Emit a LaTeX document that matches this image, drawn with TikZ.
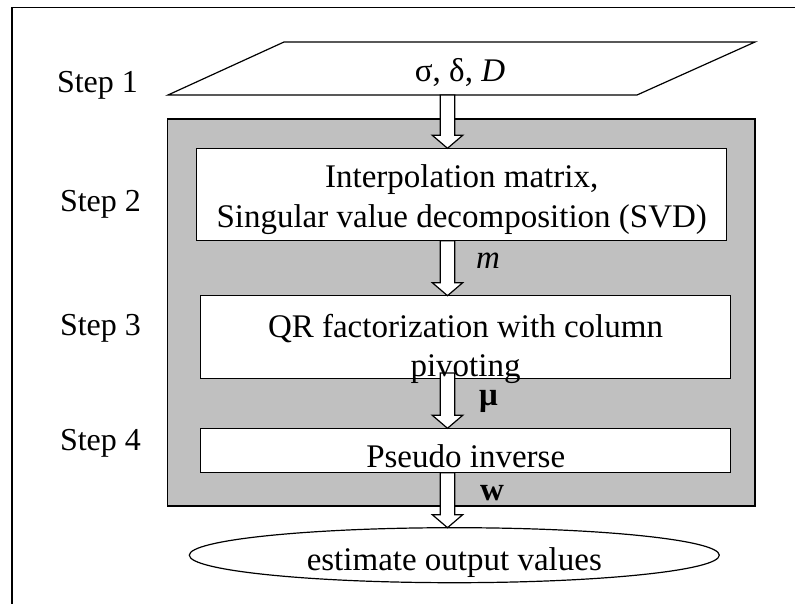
\documentclass[tikz,border=0pt]{standalone}
\usepackage{fontspec}
\setmainfont{Liberation Serif}
\usetikzlibrary{calc,shapes.geometric}
\definecolor{panel}{RGB}{192,192,192}
\newcommand\blockarrow[3][0]{%
  \draw[barrow] let \p1=(#2 -| ax), \p2=(#3 -| ax) in
    (\x1-7.3pt,\y1+#1pt) -- (\x1+7.3pt,\y1+#1pt) -- (\x1+7.3pt,\y2+13pt) -- (\x1+15.2pt,\y2+13pt)
    -- (\x1,\y2) -- (\x1-15.2pt,\y2+13pt) -- (\x1-7.3pt,\y2+13pt) -- cycle;}
\begin{document}
\begin{tikzpicture}[x=1pt,y=-1pt,
  every node/.style={inner sep=0pt, outer sep=0pt},
  lbl/.style={font=\fontsize{32}{38}\selectfont, anchor=base},
  boxtxt/.style={font=\fontsize{33}{39}\selectfont, anchor=base},
  stepbox/.style={draw, fill=white, line width=1.2pt, rectangle, minimum width=530pt},
  barrow/.style={draw, fill=white, line width=1.2pt, line join=miter}
]
\useasboundingbox (0,0) rectangle (795,604);
% outer frame (top and left edges visible)
\draw[line width=1.3pt] (12,604) -- (12,7.5) -- (795,7.5);

% input parallelogram
\node[minimum width=587pt, minimum height=53pt] (inp) at (461.5,68.5) {};
\draw[line width=1.2pt, fill=white] (inp.south west) -- ($(inp.north west)+(116,0)$)
  -- (inp.north east) -- ($(inp.south east)+(-118,0)$) -- cycle;

% grey panel
\node[draw, fill=panel, line width=1.2pt, minimum width=587.5pt, minimum height=387pt] (panel) at (461.25,312.5) {};

% step boxes
\node[stepbox, minimum height=92.4pt] (b1) at (461.7,194.5) {};
\node[stepbox, minimum height=82.6pt] (b2) at (465.7,337) {};
\node[stepbox, minimum height=44.4pt] (b3) at (465.7,450.5) {};
\node[draw, fill=white, line width=1.2pt, ellipse, minimum width=530pt, minimum height=55pt] (ell) at (454.3,555.2) {};

% arrows
\coordinate (ax) at (447.5,0);
\blockarrow{inp.south}{b1.north}
\blockarrow{b1.south}{b2.north}
\blockarrow[5.3]{b2.south}{b3.north}
\blockarrow{b3.south}{ell.north}

% texts
\node[boxtxt] (tin) at (460,82) {σ, δ, \textit{D}};
\node[boxtxt] (t1a) at (461.7,188) {Interpolation matrix,};
\node[boxtxt] (t1b) at (461.7,227.7) {Singular value decomposition (SVD)};
\node[boxtxt] (t2a) at (465.5,337) {QR factorization with column};
\node[boxtxt] (t2b) at (465.5,376.5) {pivoting};
\node[boxtxt] (t3) at (465.7,467) {Pseudo inverse};
\node[boxtxt] (t4) at (454.3,570) {estimate output values};

\node[lbl, anchor=base west] (s1) at (57,93) {Step 1};
\node[lbl, anchor=base west] (s2) at (60,212) {Step 2};
\node[lbl, anchor=base west] (s3) at (60,335) {Step 3};
\node[lbl, anchor=base west] (s4) at (60,450) {Step 4};

\node[boxtxt, anchor=base west] (lm) at (476,268) {\textit{m}};
\node[boxtxt, anchor=base west] (lmu) at (479,405) {\textbf{μ}};
\node[boxtxt, anchor=base west] (lw) at (480,500) {\textbf{w}};
\end{tikzpicture}
\end{document}
